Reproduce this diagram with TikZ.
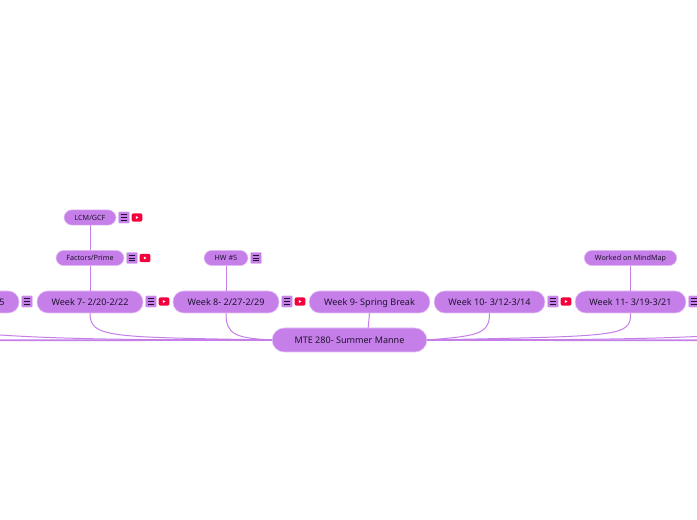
\documentclass[tikz,border=0pt]{standalone}
\usepackage{fontspec}
\setmainfont{Noto Sans}
\definecolor{bub}{HTML}{C67FE8}
\definecolor{bubedge}{HTML}{E3C0F5}
\definecolor{ink}{HTML}{1E1230}
\definecolor{yt}{HTML}{F5003C}
\tikzset{
  x=0.75pt,y=-0.75pt,
  wk/.style={rounded corners=8pt,fill=bub,draw=bubedge,line width=0.4pt,minimum height=16.5pt,inner sep=0pt,text=ink,text height=5.6pt,text depth=0.6pt,font=\fontsize{6.8}{9}\selectfont},
  sm/.style={rounded corners=6pt,fill=bub,draw=bubedge,line width=0.4pt,minimum height=11.5pt,inner sep=0pt,text=ink,text height=4.4pt,text depth=0.4pt,font=\fontsize{5.4}{7}\selectfont},
  mainbox/.style={wk,rounded corners=9pt,minimum height=18pt},
  link/.style={draw=bub,line width=0.75pt},
  trunk/.style={draw=bub,line width=1.3pt},
  mbox/.style={fill=bub,draw=bubedge,line width=0.4pt,rounded corners=0.6pt,minimum width=8pt,minimum height=8.4pt,inner sep=0pt},
  ybox/.style={fill=yt,rounded corners=1.6pt,minimum width=8.2pt,minimum height=6.2pt,inner sep=0pt}
}
\newcommand{\menuicon}[3]{%
  \node[mbox] (#1) at (#2,#3) {};
  \draw[ink,line width=0.55pt] ([xshift=-2.6pt,yshift=2.1pt]#1.center) -- ([xshift=2.6pt,yshift=2.1pt]#1.center)
    ([xshift=-2.6pt]#1.center) -- ([xshift=2.6pt]#1.center)
    ([xshift=-2.6pt,yshift=-2.1pt]#1.center) -- ([xshift=2.6pt,yshift=-2.1pt]#1.center);}
\newcommand{\yticon}[3]{%
  \node[ybox] (#1) at (#2,#3) {};
  \fill[white] ([xshift=-0.9pt,yshift=1.1pt]#1.center) -- ([xshift=1.1pt]#1.center) -- ([xshift=-0.9pt,yshift=-1.1pt]#1.center) -- cycle;}
\begin{document}
\begin{tikzpicture}
\useasboundingbox (0,0) rectangle (697,520);
\clip (0,0) rectangle (697,520);
\fill[white] (0,0) rectangle (697,520);
% nodes
\node[mainbox,minimum width=116pt] (main) at (349.5,340) {MTE 280- Summer Manne};
\node[wk,minimum width=79.5pt] (w6) at (-34,302) {Week 6- 2/13-2/15};
\node[wk,minimum width=79.5pt] (w7) at (90,302) {Week 7- 2/20-2/22};
\node[wk,minimum width=79.5pt] (w8) at (226,302) {Week 8- 2/27-2/29};
\node[wk,minimum width=90.5pt] (w9) at (369.5,302) {Week 9- Spring Break};
\node[wk,minimum width=83pt] (w10) at (489.5,302) {Week 10- 3/12-3/14};
\node[wk,minimum width=83pt] (w11) at (630.5,302) {Week 11- 3/19-3/21};
\node[sm,minimum width=39pt] (lcm) at (90,217.5) {LCM/GCF};
\node[sm,minimum width=51pt] (fac) at (90,258) {Factors/Prime};
\node[sm,minimum width=33pt] (hw) at (226,258) {HW \#5};
\node[sm,minimum width=69.5pt] (mm) at (630.5,258) {Worked on MindMap};
% icons
\menuicon{m6}{27}{301.5}
\menuicon{m7}{151}{301.5}\yticon{y7}{164}{301.5}
\menuicon{m8}{287}{301.5}\yticon{y8}{300}{301.5}
\menuicon{m10}{553}{301.5}\yticon{y10}{566}{301.5}
\menuicon{m11}{694}{301.5}
\menuicon{mlcm}{124}{217.5}\yticon{ylcm}{137}{217.5}
\menuicon{mfac}{132}{258}\yticon{yfac}{145}{258}
\menuicon{mhw}{256}{258}
% free ends
\coordinate (la) at (-10,334.3);
\coordinate (lc) at (-10,340.3);
\coordinate (ra) at (707,336);
\coordinate (rc) at (707,340.3);
% connectors
\draw[link] (lcm) -- (fac);
\draw[link] (fac) -- (w7);
\draw[link] (hw) -- (w8);
\draw[link] (mm) -- (w11);
\draw[link] (w9.south) -- ([xshift=-1pt]w9.south |- main.north);
\draw[link] (w7.south) .. controls (90,338) and (110,337) .. (main.west);
\draw[link] (w8.south) .. controls (226,335) and (236,338) .. (main.west);
\draw[link] (w10.south) .. controls (490,335) and (475,336) .. (main.east);
\draw[link] (w11.south) .. controls (631,337) and (620,336) .. (main.east);
\draw[trunk] (main.west) -- (lc);
\draw[link] (main.west) .. controls (150,340) and (60,339.5) .. (la);
\draw[trunk] (main.east) -- (rc);
\draw[link] (main.east) .. controls (550,340) and (640,339.5) .. (ra);
\end{tikzpicture}
\end{document}
